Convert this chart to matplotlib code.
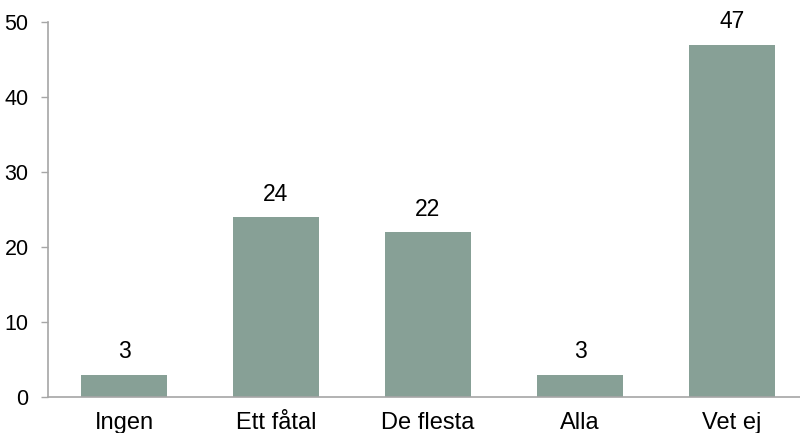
import matplotlib
matplotlib.use("Agg")
import matplotlib.pyplot as plt

categories = ["Ingen", "Ett fåtal", "De flesta", "Alla", "Vet ej"]
values = [3, 24, 22, 3, 47]
y_ticks = [0, 10, 20, 30, 40, 50]

plt.rcParams["font.family"] = ["Liberation Sans", "DejaVu Sans"]

fig = plt.figure(figsize=(8, 4.33), dpi=100)
ax = fig.add_axes([0.06, 0.083, 0.95, 0.866])

x = range(len(categories))
ax.bar(x, values, width=0.57, color="#87a096", zorder=2)

for xi, v in zip(x, values):
    ax.text(xi, v + 1.5, str(v), ha="center", va="bottom", fontsize=16.5)

ax.set_xlim(-0.5, len(categories) - 0.5)
ax.set_ylim(0, 50)
ax.set_yticks(y_ticks)
ax.set_xticks(list(x))
ax.set_xticklabels(categories, fontsize=17)
ax.tick_params(axis="x", length=0, pad=11)
ax.tick_params(axis="y", length=5, width=1, color="#a6a6a6", labelsize=15.5, pad=9)

for side in ["top", "right"]:
    ax.spines[side].set_visible(False)
for side in ["left", "bottom"]:
    ax.spines[side].set_color("#a6a6a6")
    ax.spines[side].set_linewidth(1.2)

fig.savefig("out.png", dpi=100)
